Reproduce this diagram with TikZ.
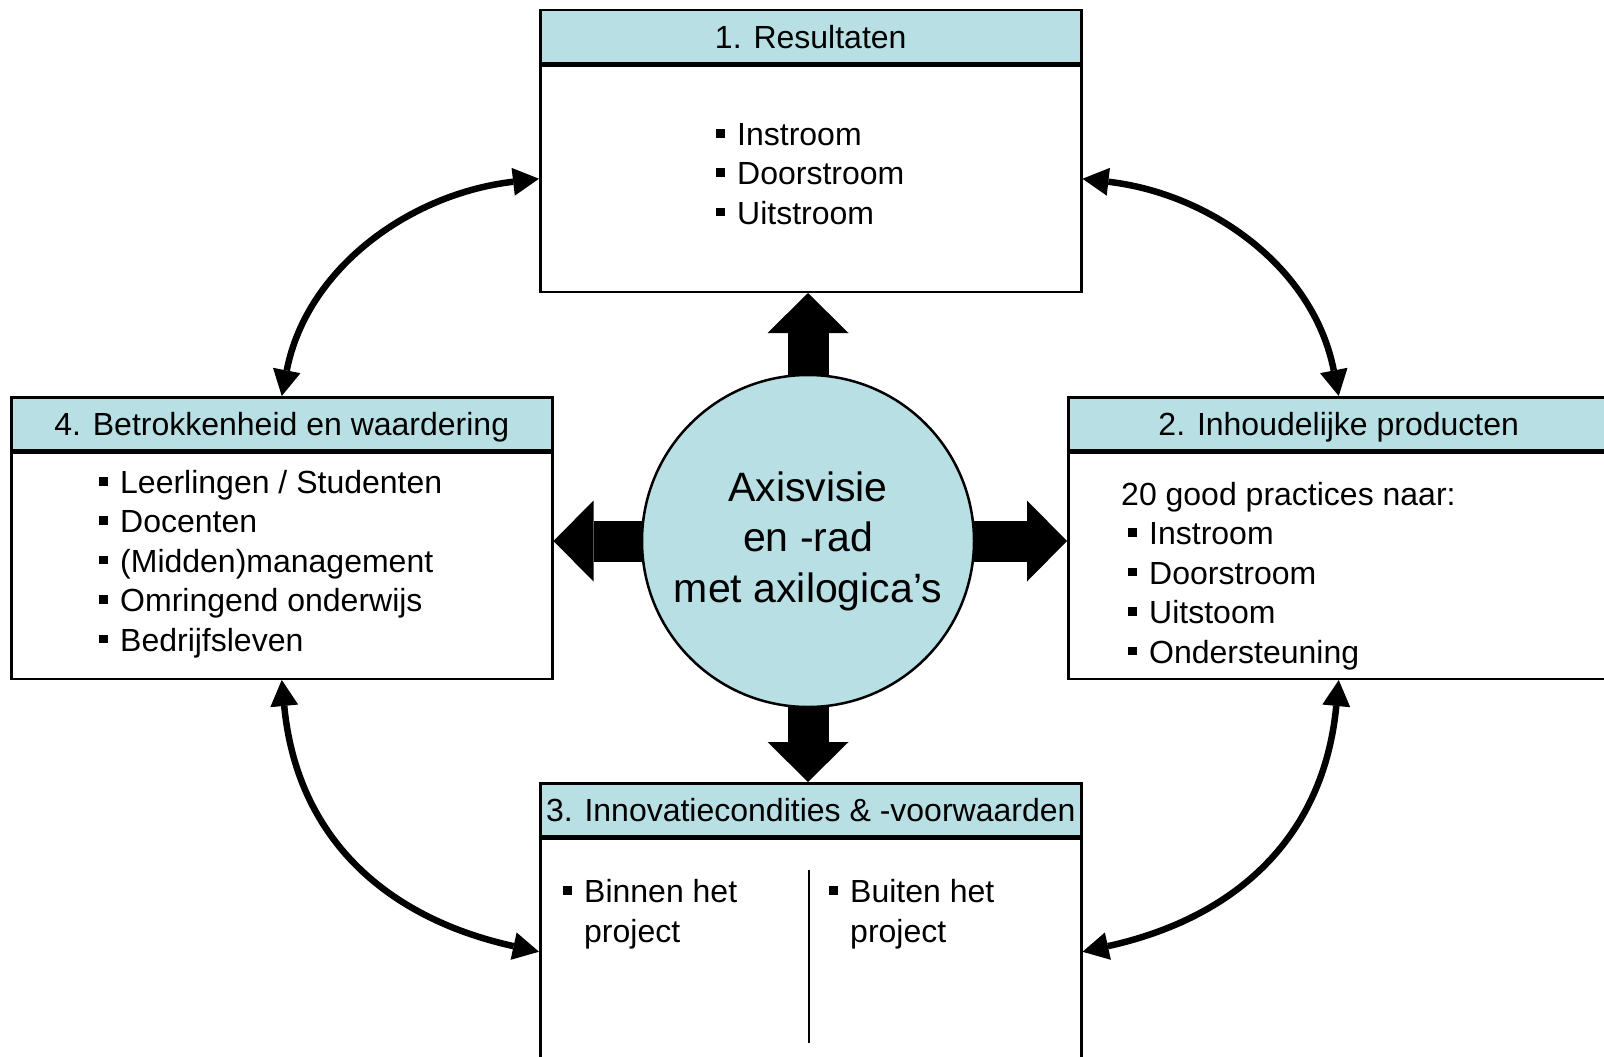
\documentclass[tikz,border=0pt]{standalone}
\usepackage{fontspec}
\setmainfont{Liberation Sans}
\usetikzlibrary{arrows.meta}
\definecolor{axblue}{RGB}{184,223,227}
\newcommand{\bul}{\rule[8pt]{8.5pt}{8.5pt}\hspace{12.5pt}}

\begin{document}
\begin{tikzpicture}[x=1pt,y=-1pt,
    head/.style={draw,fill=axblue,line width=2.5pt,minimum width=541pt,minimum height=53pt,
      inner sep=0pt,anchor=north west,text height=23pt,text depth=0pt,font=\fontsize{32}{39.4}\selectfont},
    body/.style={draw,fill=white,line width=2.5pt,minimum width=541pt,minimum height=226pt,
      inner sep=0pt,anchor=north},
    item/.style={anchor=base west,inner sep=0pt,font=\fontsize{32}{39.4}\selectfont},
    bigarr/.style={line width=41pt,-{Triangle[length=40pt,width=81pt,line width=0pt]}},
    link/.style={line width=6.5pt,
      {Triangle[length=26pt,width=28pt,line width=0pt]}-{Triangle[length=26pt,width=28pt,line width=0pt]}}]
  \clip (0,0) rectangle (1604,1057);

  \node[head] (h1) at (539,9) {1. Resultaten};
  \node[body] (b1) at (h1.south) {};
  \node[head] (h2) at (1067,396) {2. Inhoudelijke producten};
  \node[body] (b2) at (h2.south) {};
  \node[head] (h3) at (539,782) {3. Innovatiecondities \& -voorwaarden};
  \node[body] (b3) at (h3.south) {};
  \node[head] (h4) at (10,396) {4. Betrokkenheid en waardering};
  \node[body] (b4) at (h4.south) {};

  \foreach \t [count=\k] in {Instroom,Doorstroom,Uitstroom}
    \node[item] (r\k) at (716,{145.5+39.4*(\k-1)}) {\bul\t};

  \node[item] (p0) at (1121,505.5) {20 good practices naar:};
  \foreach \t [count=\k] in {Instroom,Doorstroom,Uitstoom,Ondersteuning}
    \node[item] (p\k) at (1128,{505.5+39.4*\k}) {\bul\t};

  \foreach \t [count=\k] in {{Leerlingen / Studenten},Docenten,{(Midden)management},{Omringend onderwijs},Bedrijfsleven}
    \node[item] (w\k) at (99,{493.5+39.4*(\k-1)}) {\bul\t};

  \node[item] (in1) at (563,902.5) {\bul Binnen het};
  \node[item] (in2) at (584,942) {project};
  \node[item] (out1) at (829,902.5) {\bul Buiten het};
  \node[item] (out2) at (850,942) {project};
  \draw[line width=2.5pt] (809,870) -- (809,1043);

  \coordinate (ctr) at (808,541);
  \draw[bigarr] (ctr) -- (ctr |- b1.south);
  \draw[bigarr] (ctr) -- (ctr |- h3.north);
  \draw[bigarr] (ctr) -- (ctr -| b4.east);
  \draw[bigarr] (ctr) -- (ctr -| b2.west);
  \node[circle,draw,fill=axblue,line width=2.5pt,minimum size=332pt,align=center,
    font=\fontsize{41}{50.6}\selectfont] (c) at (ctr) {Axisvisie\\en -rad\\met axilogica’s};

  \draw[link] (b1.west) .. controls +(-129,15) and +(25,-128) .. (h4.north);
  \draw[link] (b1.east) .. controls +(129,15) and +(-25,-128) .. (h2.north);
  \draw[link] (b4.south) .. controls +(15,157) and +(-154,-34) .. (b3.west);
  \draw[link] (b2.south) .. controls +(-15,157) and +(154,-34) .. (b3.east);
\end{tikzpicture}
\end{document}
